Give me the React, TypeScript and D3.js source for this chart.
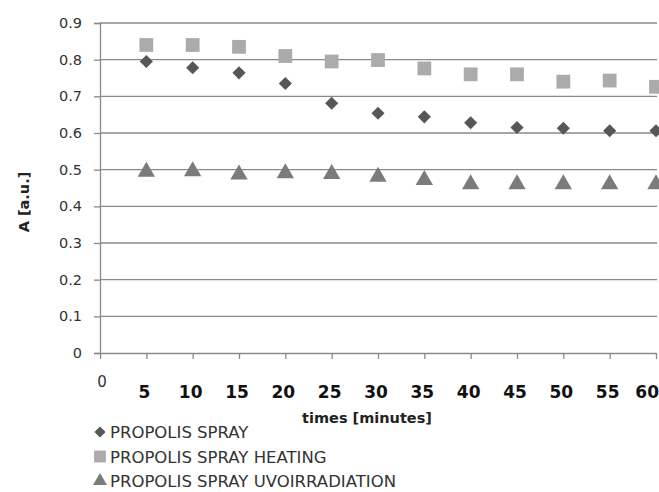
import React, { useRef, useEffect } from "react";
import * as d3 from "d3";

const times = [5, 10, 15, 20, 25, 30, 35, 40, 45, 50, 55, 60];
const spray = [0.795, 0.778, 0.764, 0.735, 0.681, 0.654, 0.644, 0.628, 0.615, 0.613, 0.606, 0.606];
const heating = [0.84, 0.84, 0.835, 0.81, 0.795, 0.799, 0.776, 0.76, 0.76, 0.74, 0.743, 0.726];
const uvIrradiation = [0.494, 0.496, 0.487, 0.49, 0.488, 0.481, 0.472, 0.46, 0.46, 0.46, 0.46, 0.46];
const yTickValues = [0, 0.1, 0.2, 0.3, 0.4, 0.5, 0.6, 0.7, 0.8, 0.9];
const seriesNames = ["PROPOLIS SPRAY", "PROPOLIS SPRAY HEATING", "PROPOLIS SPRAY UVOIRRADIATION"];

const width = 659;
const height = 492;
const font = "'DejaVu Sans', sans-serif";

const App = () => {
  const ref: any = useRef();

  useEffect(() => {
    const svg = d3.select(ref.current);
    svg.selectAll("*").remove();

    const x = d3.scaleLinear().domain([0, 60]).range([100, 656]);
    const y = d3.scaleLinear().domain([0, 0.9]).range([353, 23]);

    // gridlines
    svg
      .append("g")
      .selectAll("line")
      .data(yTickValues.filter((d) => d > 0))
      .enter()
      .append("line")
      .attr("x1", 100)
      .attr("x2", 657)
      .attr("y1", (d) => y(d))
      .attr("y2", (d) => y(d))
      .attr("stroke", "#8a8a8a")
      .attr("stroke-width", 1.3);

    // y axis
    const yAxis = svg
      .append("g")
      .attr("transform", "translate(100,0)")
      .call(d3.axisLeft(y).tickValues(yTickValues).tickSize(6).tickPadding(12).tickFormat(d3.format("")));
    yAxis.select(".domain").attr("stroke", "#8a8a8a").attr("stroke-width", 1.3);
    yAxis.selectAll(".tick line").attr("stroke", "#8a8a8a").attr("stroke-width", 1.3);
    yAxis
      .selectAll(".tick text")
      .attr("font-family", font)
      .attr("font-size", 14.5)
      .attr("fill", "#333");

    // x axis
    const xAxis = svg
      .append("g")
      .attr("transform", "translate(0,353)")
      .call(d3.axisBottom(x).tickValues([0, ...times]).tickSize(6).tickSizeOuter(0).tickFormat(() => ""));
    xAxis.select(".domain").attr("stroke", "#8a8a8a").attr("stroke-width", 1.3);
    xAxis.selectAll(".tick line").attr("stroke", "#8a8a8a").attr("stroke-width", 1.3);

    svg
      .append("text")
      .attr("x", x(0) + 2)
      .attr("y", 387)
      .attr("text-anchor", "middle")
      .attr("font-family", font)
      .attr("font-size", 15)
      .attr("fill", "#333")
      .text("0");

    svg
      .append("g")
      .selectAll("text")
      .data(times)
      .enter()
      .append("text")
      .attr("x", (d) => (d === 60 ? 659 : x(d) - 2))
      .attr("y", 398)
      .attr("text-anchor", (d) => (d === 60 ? "end" : "middle"))
      .attr("font-family", font)
      .attr("font-size", 17)
      .attr("font-weight", "bold")
      .attr("fill", "#111")
      .text((d) => d);

    svg
      .append("text")
      .attr("x", 367)
      .attr("y", 423)
      .attr("text-anchor", "middle")
      .attr("font-family", font)
      .attr("font-size", 14.5)
      .attr("font-weight", "bold")
      .attr("fill", "#222")
      .text("times [minutes]");

    svg
      .append("text")
      .attr("transform", "translate(29,202) rotate(-90)")
      .attr("text-anchor", "middle")
      .attr("font-family", font)
      .attr("font-size", 14.5)
      .attr("font-weight", "bold")
      .attr("fill", "#222")
      .text("A [a.u.]");

    const diamond = d3.symbol().type(d3.symbolDiamond2).size(110);
    const square = d3.symbol().type(d3.symbolSquare).size(190);
    const triangle = d3.symbol().type(d3.symbolTriangle).size(130);

    const series = [
      { values: heating, path: square, color: "#ababab" },
      { values: spray, path: diamond, color: "#575757" },
      { values: uvIrradiation, path: triangle, color: "#7b7b7b" },
    ];

    series.forEach((s) => {
      svg
        .append("g")
        .selectAll("path")
        .data(s.values)
        .enter()
        .append("path")
        .attr("transform", (d, i) => `translate(${x(times[i])},${y(d)})`)
        .attr("d", s.path())
        .attr("fill", s.color);
    });

    // legend
    const legendMarks = [
      { path: d3.symbol().type(d3.symbolDiamond2).size(80), color: "#575757" },
      { path: d3.symbol().type(d3.symbolSquare).size(140), color: "#ababab" },
      { path: d3.symbol().type(d3.symbolTriangle).size(85), color: "#7b7b7b" },
    ];
    const legend = svg
      .append("g")
      .selectAll("g")
      .data(seriesNames)
      .enter()
      .append("g")
      .attr("transform", (d, i) => `translate(0,${432 + i * 24.5})`);
    legend
      .append("path")
      .attr("transform", "translate(100,0)")
      .attr("d", (d, i) => legendMarks[i].path())
      .attr("fill", (d, i) => legendMarks[i].color);
    legend
      .append("text")
      .attr("x", 110)
      .attr("y", 6)
      .attr("font-family", font)
      .attr("font-size", 16.5)
      .attr("fill", "#333")
      .text((d) => d);
  }, []);

  return (
    <svg
      ref={ref}
      width={width}
      height={height}
      style={{ position: "absolute", left: 0, top: 0, background: "#fff" }}
    ></svg>
  );
};

export default App;
